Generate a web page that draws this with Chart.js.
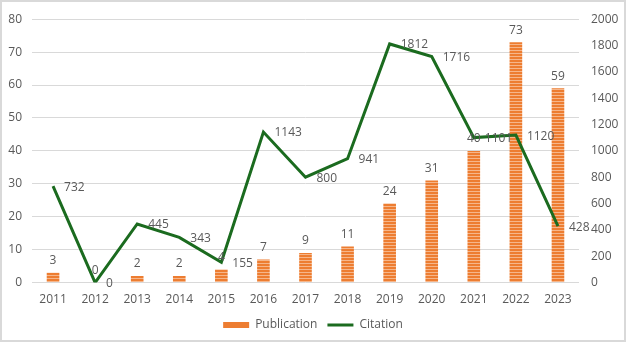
<!DOCTYPE html>
<html>
<head>
<meta charset="utf-8">
<script src="https://cdn.jsdelivr.net/npm/chart.js@4.4.1/dist/chart.umd.min.js"></script>
<style>
  html, body { margin: 0; padding: 0; background: #fff; }
  #wrap { width: 626px; height: 342px; box-sizing: border-box; border: 2px solid #d9d9d9; position: relative; }
  canvas { position: absolute; left: -2px; top: -2px; }
</style>
</head>
<body>
<div id="wrap"><canvas id="chart" width="626" height="342"></canvas></div>
<script>
// values
const years = ["2011", "2012", "2013", "2014", "2015", "2016", "2017", "2018", "2019", "2020", "2021", "2022", "2023"];
const publications = [3, 0, 2, 2, 4, 7, 9, 11, 24, 31, 40, 73, 59];
const citations = [732, 0, 445, 343, 155, 1143, 800, 941, 1812, 1716, 1101, 1120, 428];

const orange = "#ED7D31";
const green = "#1B6B1F";
const textGrey = "#595959";

// striped fill like the reference bars
const makeStripes = () => {
    const c = document.createElement("canvas");
    c.width = 4; c.height = 3;
    const g = c.getContext("2d");
    g.fillStyle = orange;
    g.fillRect(0, 0, 4, 3);
    g.fillStyle = "#F6B68A";
    g.fillRect(0, 2, 4, 1);
    return g.createPattern(c, "repeat");
};

// value labels: above bars, to the right of line points
const valueLabels = {
    id: "valueLabels",
    afterDatasetsDraw(chart) {
        const ctx = chart.ctx;
        ctx.save();
        ctx.font = "12px 'Open Sans'";
        ctx.fillStyle = textGrey;
        ctx.textBaseline = "middle";
        chart.getDatasetMeta(0).data.forEach((bar, i) => {
            ctx.textAlign = "center";
            ctx.fillText(publications[i], bar.x, bar.y - 12);
        });
        chart.getDatasetMeta(1).data.forEach((pt, i) => {
            ctx.textAlign = "left";
            ctx.fillText(citations[i], pt.x + 11, pt.y + 1);
        });
        ctx.restore();
    }
};

const ctx = document.getElementById("chart").getContext("2d");
const chart = new Chart(ctx, {
    data: {
        labels: years,
        datasets: [{
            type: "bar",
            label: "Publication",
            data: publications,
            backgroundColor: makeStripes(),
            yAxisID: "y",
            barPercentage: 0.3,
            categoryPercentage: 1,
            order: 1
        }, {
            type: "line",
            label: "Citation",
            data: citations,
            borderColor: green,
            backgroundColor: green,
            borderWidth: 3,
            pointRadius: 0,
            tension: 0,
            yAxisID: "y1",
            order: 0
        }]
    },
    options: {
        responsive: false,
        animation: false,
        layout: { padding: { top: 7, bottom: 1 } },
        plugins: {
            tooltip: { enabled: false },
            legend: {
                position: "bottom",
                labels: {
                    color: textGrey,
                    font: { family: "'Open Sans'", size: 12 },
                    usePointStyle: true,
                    pointStyleWidth: 26,
                    boxHeight: 6,
                    padding: 10,
                    generateLabels: (c) => [
                        { text: "Publication", fillStyle: orange, strokeStyle: orange, lineWidth: 0, pointStyle: "rect", datasetIndex: 0, fontColor: textGrey },
                        { text: "Citation", fillStyle: green, strokeStyle: green, lineWidth: 3, pointStyle: "line", datasetIndex: 1, fontColor: textGrey }
                    ]
                }
            }
        },
        scales: {
            x: {
                grid: { display: false },
                border: { display: false },
                ticks: { color: textGrey, font: { family: "'Open Sans'", size: 12 }, padding: 2 }
            },
            y: {
                position: "left",
                min: 0, max: 80,
                ticks: { stepSize: 10, color: textGrey, font: { family: "'Open Sans'", size: 12 }, padding: 10 },
                grid: { color: "#d9d9d9", drawTicks: false },
                border: { display: false },
                afterFit: (s) => { s.width = 32; }
            },
            y1: {
                position: "right",
                min: 0, max: 2000,
                ticks: { stepSize: 200, color: textGrey, font: { family: "'Open Sans'", size: 12 }, padding: 12, callback: (v) => String(v) },
                grid: { display: false, drawTicks: false },
                border: { display: false },
                afterFit: (s) => { s.width = 47; }
            }
        }
    },
    plugins: [valueLabels]
});
</script>
</body>
</html>
